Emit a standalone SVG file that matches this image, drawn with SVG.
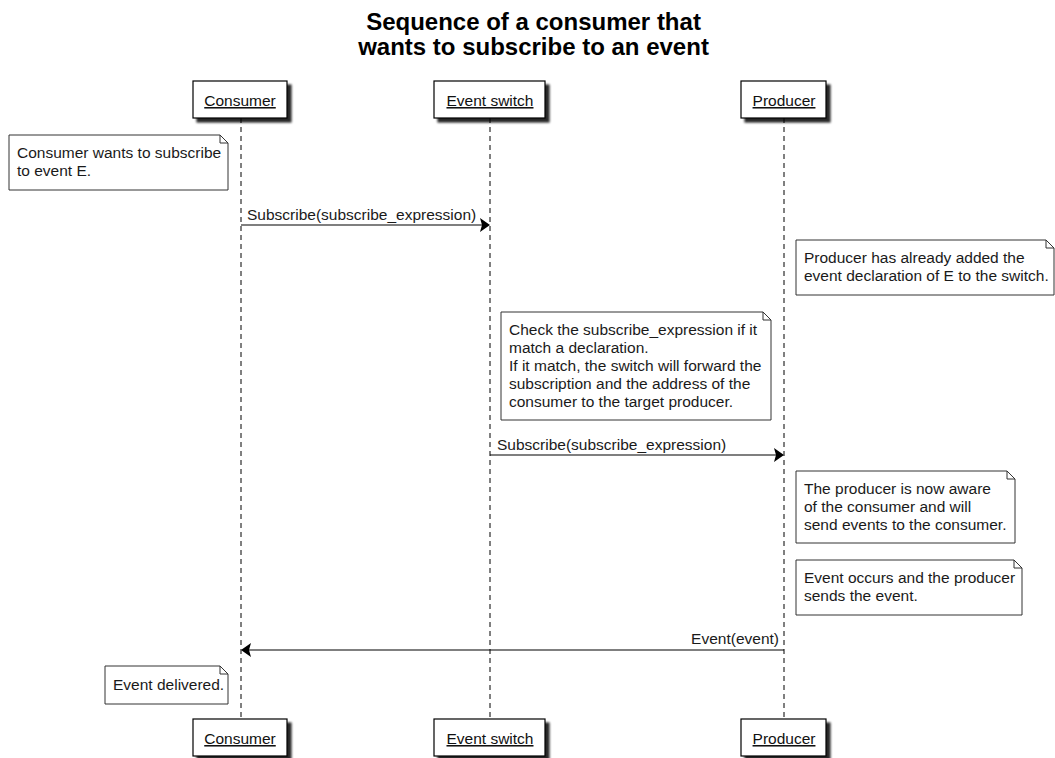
<svg xmlns="http://www.w3.org/2000/svg" width="1055" height="758" viewBox="0 0 1055 758">
  <style>
    text { font-family: "Liberation Sans", Arial, sans-serif; fill: #000; }
    .title { font-size: 24px; font-weight: bold; text-anchor: middle; }
    .actor-box { fill: #fff; stroke: #000; stroke-width: 1.2; }
    .actor-label { font-size: 15.5px; text-anchor: middle; text-decoration: underline; fill: #111; }
    .lifeline { stroke: #000; stroke-width: 1; stroke-dasharray: 5 4; fill: none; }
    .note { fill: #fff; stroke: #333; stroke-width: 1; }
    .fold { fill: none; stroke: #333; stroke-width: 1; }
    .note-text { font-size: 15.5px; fill: #1a1a1a; }
    .msg { stroke: #000; stroke-width: 1.2; fill: none; }
    .msg-label { font-size: 15.5px; fill: #1a1a1a; }
    .head { fill: #000; }
  </style>
  <defs>
    <filter id="shadow" x="-20%" y="-20%" width="150%" height="160%">
      <feGaussianBlur in="SourceAlpha" stdDeviation="1.2" result="blur"/>
      <feOffset in="blur" dx="4" dy="4" result="off"/>
      <feComponentTransfer in="off" result="dark">
        <feFuncA type="linear" slope="0.85"/>
      </feComponentTransfer>
      <feMerge>
        <feMergeNode in="dark"/>
        <feMergeNode in="SourceGraphic"/>
      </feMerge>
    </filter>
  </defs>

  <rect width="1055" height="758" fill="#fff"/>

  <g id="title">
    <text class="title" x="533.5" y="30">Sequence of a consumer that</text>
    <text class="title" x="533.5" y="55">wants to subscribe to an event</text>
  </g>

  <!-- lifelines -->
  <g id="lifelines">
    <line class="lifeline" x1="241" y1="118" x2="241" y2="719"/>
    <line class="lifeline" x1="490" y1="118" x2="490" y2="719"/>
    <line class="lifeline" x1="784" y1="118" x2="784" y2="719"/>
  </g>

  <!-- participants, head and foot -->
  <g id="consumer">
    <rect class="actor-box" x="193" y="81" width="94" height="37" filter="url(#shadow)"/>
    <text class="actor-label" x="240" y="106">Consumer</text>
    <rect class="actor-box" x="193" y="719" width="94" height="37" filter="url(#shadow)"/>
    <text class="actor-label" x="240" y="744">Consumer</text>
  </g>
  <g id="event-switch">
    <rect class="actor-box" x="434" y="81" width="111" height="37" filter="url(#shadow)"/>
    <text class="actor-label" x="490" y="106">Event switch</text>
    <rect class="actor-box" x="434" y="719" width="111" height="37" filter="url(#shadow)"/>
    <text class="actor-label" x="490" y="744">Event switch</text>
  </g>
  <g id="producer">
    <rect class="actor-box" x="741" y="81" width="85" height="37" filter="url(#shadow)"/>
    <text class="actor-label" x="784" y="106">Producer</text>
    <rect class="actor-box" x="741" y="719" width="85" height="37" filter="url(#shadow)"/>
    <text class="actor-label" x="784" y="744">Producer</text>
  </g>

  <!-- notes -->
  <g id="note-consumer-wants">
    <path class="note" d="M9,135 H220 L228,143 V190 H9 Z"/>
    <path class="fold" d="M220,135 V143 H228"/>
    <text class="note-text" x="17" y="158">Consumer wants to subscribe</text>
    <text class="note-text" x="17" y="176">to event E.</text>
  </g>
  <g id="note-producer-declared">
    <path class="note" d="M796,240 H1046 L1054,248 V295 H796 Z"/>
    <path class="fold" d="M1046,240 V248 H1054"/>
    <text class="note-text" x="804" y="263">Producer has already added the</text>
    <text class="note-text" x="804" y="281">event declaration of E to the switch.</text>
  </g>
  <g id="note-switch-check">
    <path class="note" d="M501,312 H763 L771,320 V420 H501 Z"/>
    <path class="fold" d="M763,312 V320 H771"/>
    <text class="note-text" x="509" y="335">Check the subscribe_expression if it</text>
    <text class="note-text" x="509" y="353">match a declaration.</text>
    <text class="note-text" x="509" y="371">If it match, the switch will forward the</text>
    <text class="note-text" x="509" y="389">subscription and the address of the</text>
    <text class="note-text" x="509" y="407">consumer to the target producer.</text>
  </g>
  <g id="note-producer-aware">
    <path class="note" d="M796,471 H1007 L1015,479 V543 H796 Z"/>
    <path class="fold" d="M1007,471 V479 H1015"/>
    <text class="note-text" x="804" y="494">The producer is now aware</text>
    <text class="note-text" x="804" y="512">of the consumer and will</text>
    <text class="note-text" x="804" y="530">send events to the consumer.</text>
  </g>
  <g id="note-event-occurs">
    <path class="note" d="M796,560 H1014 L1022,568 V615 H796 Z"/>
    <path class="fold" d="M1014,560 V568 H1022"/>
    <text class="note-text" x="804" y="583">Event occurs and the producer</text>
    <text class="note-text" x="804" y="601">sends the event.</text>
  </g>
  <g id="note-event-delivered">
    <path class="note" d="M105,666 H220 L228,674 V704 H105 Z"/>
    <path class="fold" d="M220,666 V674 H228"/>
    <text class="note-text" x="113" y="690">Event delivered.</text>
  </g>

  <!-- messages -->
  <g id="connectors">
    <line class="msg" x1="241" y1="225" x2="484" y2="225"/>
    <polygon class="head" points="480,218 490,225 480,232 482,225"/>
    <text class="msg-label" x="247" y="220">Subscribe(subscribe_expression)</text>

    <line class="msg" x1="490" y1="455" x2="778" y2="455"/>
    <polygon class="head" points="774,448 784,455 774,462 776,455"/>
    <text class="msg-label" x="497" y="450">Subscribe(subscribe_expression)</text>

    <line class="msg" x1="784" y1="650" x2="247" y2="650"/>
    <polygon class="head" points="251,643 241,650 251,657 249,650"/>
    <text class="msg-label" x="779" y="644" text-anchor="end">Event(event)</text>
  </g>
</svg>
